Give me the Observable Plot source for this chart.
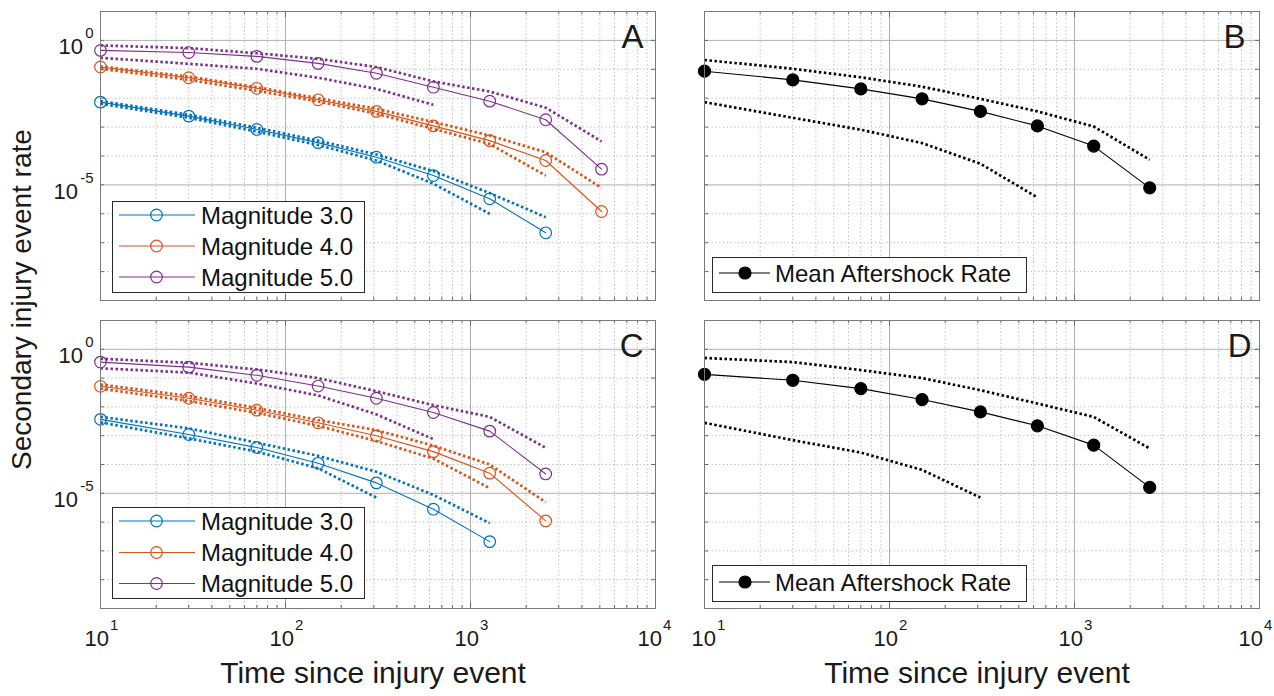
<!DOCTYPE html>
<html><head><meta charset="utf-8">
<script src="https://cdn.jsdelivr.net/npm/d3@7"></script>
<script src="https://cdn.jsdelivr.net/npm/@observablehq/plot@0.6"></script>
<style>
html,body{margin:0;padding:0;background:#fff;}
#root{position:relative;width:1274px;height:696px;overflow:hidden;font-family:"Liberation Sans",Arial,sans-serif;color:#1a1a1a;}
#root > svg{position:absolute;}
.legend{position:absolute;box-sizing:border-box;border:1.4px solid #2a2a2a;background:#fff;}
.legend svg{position:absolute;left:0;top:0;overflow:visible;}
.ytitle{position:absolute;font-size:28px;white-space:nowrap;transform-origin:0 0;}
</style></head><body><div id="root"></div>
<script>
// ---------- data ----------
const times = [10, 30, 70, 150, 310, 630, 1270, 2550, 5110];
const magLabels = ["Magnitude 3.0", "Magnitude 4.0", "Magnitude 5.0"];
const magColors = ["#0072BD", "#D95319", "#7E2F8E"];
const meanLabel = "Mean Aftershock Rate";
const xTickValues = [10, 100, 1000, 10000];
const xTickExp = ["1", "2", "3", "4"];
const yTickValues = [1, 1e-5];
const yTickExp = ["0", "-5"];
const xTitle = "Time since injury event";
const yTitle = "Secondary injury event rate";

// Panel A
const aM3   = [7.3e-3, 2.4e-3, 8.3e-4, 2.9e-4, 9.1e-5, 2.1e-5, 3.3e-6, 2.2e-7];
const aM3Hi = [7.9e-3, 2.7e-3, 9.5e-4, 3.4e-4, 1.13e-4, 3.0e-5, 5.2e-6, 7.6e-7];
const aM3Lo = [6.4e-3, 2.1e-3, 7.0e-4, 2.4e-4, 7.0e-5, 1.1e-5, 1.0e-6];
const aM4   = [0.12, 0.051, 0.022, 8.8e-3, 3.5e-3, 1.1e-3, 3.4e-4, 7.0e-5, 1.2e-6];
const aM4Hi = [0.125, 0.056, 0.024, 0.010, 4.3e-3, 1.5e-3, 5.1e-4, 1.35e-4, 7.9e-6];
const aM4Lo = [0.104, 0.043, 0.018, 7.7e-3, 2.9e-3, 8.7e-4, 2.6e-4, 2.1e-5];
const aM5   = [0.45, 0.38, 0.28, 0.16, 0.073, 0.024, 7.9e-3, 1.8e-3, 3.5e-5];
const aM5Hi = [0.67, 0.54, 0.36, 0.23, 0.12, 0.038, 0.017, 4.7e-3, 3.2e-4];
const aM5Lo = [0.25, 0.155, 0.104, 0.051, 0.021, 5.9e-3];
// Panel B
const bMean = [0.086, 0.043, 0.021, 9.5e-3, 3.5e-3, 1.1e-3, 2.2e-4, 7.9e-6];
const bHi   = [0.21, 0.104, 0.053, 0.025, 9.5e-3, 3.5e-3, 1.05e-3, 7.4e-5];
const bLo   = [7.3e-3, 2.1e-3, 8.1e-4, 2.8e-4, 5.4e-5, 3.7e-6];
// Panel C
const cM3   = [3.7e-3, 1.1e-3, 3.9e-4, 1.1e-4, 2.3e-5, 2.8e-6, 2.1e-7];
const cM3Hi = [4.5e-3, 1.8e-3, 5.7e-4, 2.0e-4, 5.6e-5, 8.8e-6, 9.2e-7];
const cM3Lo = [2.9e-3, 8.1e-4, 2.8e-4, 7.4e-5, 7.1e-6];
const cM4   = [0.052, 0.020, 7.7e-3, 2.8e-3, 9.9e-4, 2.8e-4, 5.0e-5, 1.1e-6];
const cM4Hi = [0.060, 0.024, 9.2e-3, 3.5e-3, 1.56e-3, 4.5e-4, 1.0e-4, 4.9e-6];
const cM4Lo = [0.043, 0.016, 6.2e-3, 2.2e-3, 6.5e-4, 1.6e-4, 1.5e-5];
const cM5   = [0.36, 0.24, 0.125, 0.053, 0.020, 6.4e-3, 1.44e-3, 4.7e-5];
const cM5Hi = [0.47, 0.34, 0.20, 0.10, 0.035, 0.0115, 4.5e-3, 3.8e-4];
const cM5Lo = [0.22, 0.155, 0.065, 0.025, 5.5e-3, 7.6e-4];
// Panel D
const dMean = [0.135, 0.084, 0.043, 0.018, 6.7e-3, 2.2e-3, 4.7e-4, 1.6e-5];
const dHi   = [0.50, 0.36, 0.19, 0.10, 0.038, 0.0131, 4.5e-3, 3.6e-4];
const dLo   = [2.8e-3, 7.0e-4, 2.6e-4, 6.5e-5, 7.1e-6];

// ---------- helpers ----------
const FONT = '"Liberation Sans", Arial, sans-serif';
const root = document.getElementById("root");
const xMinor = [10, 100, 1000].flatMap(d => d3.range(2, 10).map(k => k * d));
const yDecades = d3.range(-9, 2).map(e => Math.pow(10, e));
const yMinor = yDecades.filter(v => !yTickValues.includes(v) && v > 1e-9 && v < 10);
const pts = vals => vals.map((v, i) => ({t: times[i], v}));

function makePanel(cfg) {
  const {left, top, width, height, mL, mR, mT, mB} = cfg;
  const W = width - mL - mR, H = height - mT - mB;
  const gridDot = {stroke: "#b5b5b5", strokeWidth: 1, strokeDasharray: "1.2,2.6"};
  const tickC = "#6a6a6a";
  const dotted = {strokeWidth: 2.7, strokeDasharray: "2.5,2.5", strokeLinecap: "butt"};
  const marks = [
    Plot.ruleX(xMinor, gridDot),
    Plot.ruleY(yMinor, gridDot),
    Plot.ruleX([100, 1000], {stroke: "#b0b0b0", strokeWidth: 1}),
    Plot.ruleY(yTickValues, {stroke: "#b0b0b0", strokeWidth: 1}),
    Plot.tickX(xMinor, {x: d => d, insetTop: H - 3, stroke: tickC}),
    Plot.tickX(xMinor, {x: d => d, insetBottom: H - 3, stroke: tickC}),
    Plot.tickX(xTickValues, {x: d => d, insetTop: H - 6, stroke: tickC}),
    Plot.tickX(xTickValues, {x: d => d, insetBottom: H - 6, stroke: tickC}),
    Plot.tickY(yDecades, {y: d => d, insetRight: W - 4, stroke: tickC}),
    Plot.tickY(yDecades, {y: d => d, insetLeft: W - 4, stroke: tickC})
  ];
  for (const s of cfg.series) {
    marks.push(Plot.line(pts(s.hi), {x: "t", y: "v", stroke: s.color, ...dotted}));
    marks.push(Plot.line(pts(s.lo), {x: "t", y: "v", stroke: s.color, ...dotted}));
    marks.push(Plot.line(pts(s.main), {x: "t", y: "v", stroke: s.color, strokeWidth: 1.1}));
    marks.push(Plot.dot(pts(s.main), {x: "t", y: "v", r: s.filled ? 6 : 5.8,
      stroke: s.color, fill: s.filled ? s.color : "none", strokeWidth: 1.2}));
  }
  marks.push(Plot.frame({stroke: "#7a7a7a", strokeWidth: 1}));
  marks.push(Plot.text([cfg.letter], {frameAnchor: "top-right", text: d => d, textAnchor: "end",
    dx: -cfg.letterDx, dy: 36, lineAnchor: "bottom", fontSize: 33, fill: "#1a1a1a"}));
  if (cfg.xLabels) {
    xTickValues.forEach((tv, i) => {
      const sh = cfg.xShift[i];
      marks.push(Plot.text([tv], {x: d => d, frameAnchor: "bottom", text: () => "10",
        textAnchor: "end", dx: 8.5 + sh, dy: 37, lineAnchor: "bottom", fontSize: 22, fill: "#1a1a1a"}));
      marks.push(Plot.text([tv], {x: d => d, frameAnchor: "bottom", text: () => xTickExp[i],
        textAnchor: "start", dx: 9.5 + sh, dy: 21, lineAnchor: "bottom", fontSize: 15, fill: "#1a1a1a"}));
    });
    marks.push(Plot.text([xTitle], {frameAnchor: "bottom", text: d => d, dy: 74, dx: -5,
      lineAnchor: "bottom", fontSize: 30, fill: "#1a1a1a"}));
  }
  if (cfg.yLabels) {
    yTickValues.forEach((tv, i) => {
      const supW = i === 0 ? 8.5 : 13.5;
      marks.push(Plot.text([tv], {y: d => d, frameAnchor: "left", text: () => "10",
        textAnchor: "end", dx: -7 - supW - 2, dy: 14, lineAnchor: "bottom", fontSize: 22, fill: "#1a1a1a"}));
      marks.push(Plot.text([tv], {y: d => d, frameAnchor: "left", text: () => yTickExp[i],
        textAnchor: "end", dx: -7, dy: -2, lineAnchor: "bottom", fontSize: 15, fill: "#1a1a1a"}));
    });
  }
  const svg = Plot.plot({
    width, height,
    marginLeft: mL, marginRight: mR, marginTop: mT, marginBottom: mB,
    x: {type: "log", domain: [10, 10000], axis: null},
    y: {type: "log", domain: [1e-9, 10], axis: null},
    style: {fontFamily: FONT, background: "transparent", overflow: "visible"},
    marks
  });
  svg.style.position = "absolute";
  svg.style.left = left + "px";
  svg.style.top = top + "px";
  root.appendChild(svg);
}

function magSeries(m3, m3h, m3l, m4, m4h, m4l, m5, m5h, m5l) {
  return [
    {color: magColors[0], main: m3, hi: m3h, lo: m3l},
    {color: magColors[1], main: m4, hi: m4h, lo: m4l},
    {color: magColors[2], main: m5, hi: m5h, lo: m5l}
  ];
}

makePanel({left: 0, top: 0, width: 680, height: 310, mL: 100, mR: 25, mT: 11, mB: 10,
  series: magSeries(aM3, aM3Hi, aM3Lo, aM4, aM4Hi, aM4Lo, aM5, aM5Hi, aM5Lo),
  letter: "A", letterDx: 12, xLabels: false, yLabels: true});
makePanel({left: 680, top: 0, width: 594, height: 310, mL: 24, mR: 15, mT: 11, mB: 10,
  series: [{color: "#000", main: bMean, hi: bHi, lo: bLo, filled: true}],
  letter: "B", letterDx: 14, xLabels: false, yLabels: false});
makePanel({left: 0, top: 310, width: 680, height: 386, mL: 100, mR: 25, mT: 10, mB: 88,
  series: magSeries(cM3, cM3Hi, cM3Lo, cM4, cM4Hi, cM4Lo, cM5, cM5Hi, cM5Lo),
  letter: "C", letterDx: 12, xLabels: true, yLabels: true, xShift: [0, 0, 0, -2]});
makePanel({left: 680, top: 310, width: 594, height: 386, mL: 24, mR: 15, mT: 10, mB: 88,
  series: [{color: "#000", main: dMean, hi: dHi, lo: dLo, filled: true}],
  letter: "D", letterDx: 8, xLabels: true, yLabels: false, xShift: [3, 0, 0, -5]});

// ---------- legends ----------
function legend(box, entries, rows, lx1, lx2, mx, tx, filled) {
  const div = document.createElement("div");
  div.className = "legend";
  Object.assign(div.style, {left: box[0] + "px", top: box[1] + "px", width: box[2] + "px", height: box[3] + "px"});
  const svg = d3.create("svg").attr("width", box[2]).attr("height", box[3]);
  entries.forEach((e, i) => {
    const y = rows[i];
    svg.append("line").attr("x1", lx1).attr("x2", lx2).attr("y1", y).attr("y2", y)
      .attr("stroke", e.color).attr("stroke-width", 1.1);
    svg.append("circle").attr("cx", mx).attr("cy", y).attr("r", filled ? 6 : 5.8)
      .attr("fill", filled ? e.color : "none").attr("stroke", e.color).attr("stroke-width", 1.2);
    svg.append("text").attr("x", tx).attr("y", y + 8.5).attr("font-size", 24)
      .attr("font-family", FONT).attr("fill", "#111").text(e.label);
  });
  div.appendChild(svg.node());
  root.appendChild(div);
}
const magEntries = magLabels.map((l, i) => ({label: l, color: magColors[i]}));
legend([112, 201, 253, 92], magEntries, [13, 44, 75], 6, 82, 43.5, 88, false);
legend([112, 507, 253, 92], magEntries, [13, 44.5, 75.5], 6, 82, 43.5, 88, false);
legend([712, 257, 315, 36], [{label: meanLabel, color: "#000"}], [15], 6, 57, 32, 62, true);
legend([712, 565, 315, 37], [{label: meanLabel, color: "#000"}], [16], 6, 57, 32, 62, true);

// ---------- y title ----------
const yt = document.createElement("div");
yt.className = "ytitle";
yt.textContent = yTitle;
root.appendChild(yt);
const w = yt.getBoundingClientRect().width;
Object.assign(yt.style, {left: "6px", top: (300 + w / 2) + "px", transform: "rotate(-90deg)", lineHeight: "32px"});
</script></body></html>
